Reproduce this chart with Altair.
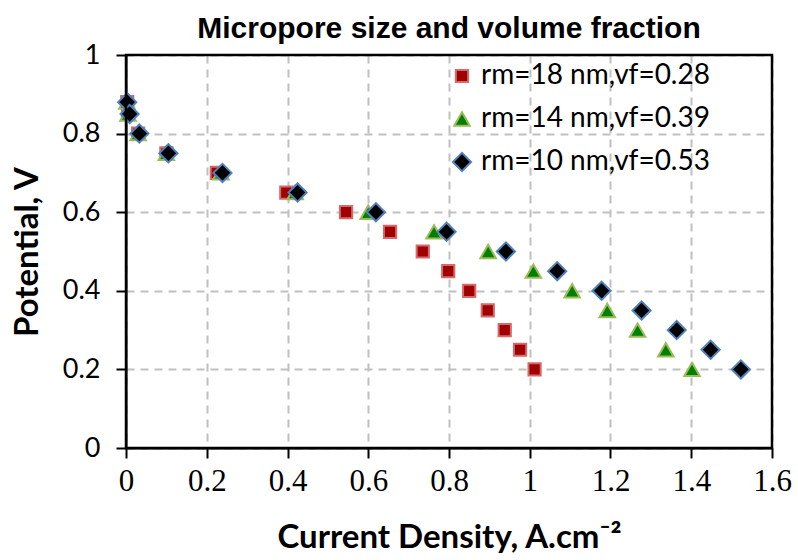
import altair as alt
import pandas as pd

potential = [0.88, 0.85, 0.80, 0.75, 0.70, 0.65, 0.60, 0.55, 0.50, 0.45, 0.40, 0.35, 0.30, 0.25, 0.20]
cd_rm18 = [0.003, 0.005, 0.03, 0.10, 0.225, 0.397, 0.545, 0.654, 0.735, 0.798, 0.850, 0.896, 0.938, 0.976, 1.012]
cd_rm14 = [0.002, 0.005, 0.03, 0.10, 0.235, 0.419, 0.600, 0.763, 0.897, 1.009, 1.105, 1.192, 1.267, 1.337, 1.402]
cd_rm10 = [0.003, 0.009, 0.033, 0.105, 0.239, 0.425, 0.619, 0.794, 0.941, 1.068, 1.178, 1.277, 1.364, 1.448, 1.523]
series_names = ["rm=18 nm,vf=0.28", "rm=14 nm,vf=0.39", "rm=10 nm,vf=0.53"]

rows = []
for i, (name, xs) in enumerate(zip(series_names, [cd_rm18, cd_rm14, cd_rm10])):
    for x, y in zip(xs, potential):
        rows.append({"series": name, "cd": x, "v": y, "order": i})
df = pd.DataFrame(rows)

sans = "Lato"

leg = alt.Legend(title=None, orient="none", legendX=322, legendY=7,
                 labelFont=sans, labelFontSize=28, labelLimit=0, rowPadding=15,
                 symbolStrokeWidth=2, labelOffset=5, padding=0)

points = alt.Chart(df).mark_point(filled=True, strokeWidth=2, opacity=1).encode(
    x=alt.X("cd:Q", scale=alt.Scale(domain=[0, 1.6], nice=False),
            axis=alt.Axis(values=[0, 0.2, 0.4, 0.6, 0.8, 1, 1.2, 1.4, 1.6], format="~g",
                          title="Current Density, A.cm⁻²",
                          labelFont="Liberation Serif", labelFontSize=31,
                          labelPadding=8, labelFlush=False, labelOverlap=False,
                          titlePadding=25)),
    y=alt.Y("v:Q", scale=alt.Scale(domain=[0, 1], nice=False),
            axis=alt.Axis(values=[0, 0.2, 0.4, 0.6, 0.8, 1], format="~g", title="Potential, V",
                          labelFont=sans, labelFontSize=27, labelPadding=16,
                          labelFlush=False, labelOverlap=False, titlePadding=18)),
    shape=alt.Shape("series:N", scale=alt.Scale(domain=series_names,
                    range=["square", "triangle-up", "diamond"]), legend=leg),
    fill=alt.Fill("series:N", scale=alt.Scale(domain=series_names,
                  range=["#A00000", "#008000", "#000000"]), legend=leg),
    stroke=alt.Stroke("series:N", scale=alt.Scale(domain=series_names,
                      range=["#D46A6A", "#9BBB59", "#4F81BD"]), legend=leg),
    size=alt.Size("series:N", scale=alt.Scale(domain=series_names, range=[150, 330, 300]),
                  legend=leg),
    order=alt.Order("order:Q"),
)

frame = alt.Chart(df).mark_rect(fill=None, stroke="black", strokeWidth=2.5).encode(
    x=alt.value(0), x2=alt.value(646), y=alt.value(0), y2=alt.value(393)
).transform_filter("datum.order == 0 && datum.v == 0.2")

chart = alt.layer(points, frame).properties(
    width=646, height=393,
    title=alt.TitleParams("Micropore size and volume fraction", font="Liberation Sans",
                          fontSize=30, fontWeight="bold", anchor="middle", offset=12, dy=15),
    autosize=alt.AutoSizeParams(type="none"),
    padding={"left": 126, "top": 55, "right": 26, "bottom": 112},
).configure_view(stroke=None).configure_axis(
    grid=True, gridColor="#C0C0C0", gridDash=[8, 6], gridWidth=2,
    domainColor="black", domainWidth=2, tickColor="black", tickWidth=2, tickSize=10,
    labelColor="black", titleColor="black", titleFont=sans, titleFontSize=33,
    titleFontWeight="bold",
)

chart.save("out.html", embed_options={"renderer": "svg", "actions": False})
